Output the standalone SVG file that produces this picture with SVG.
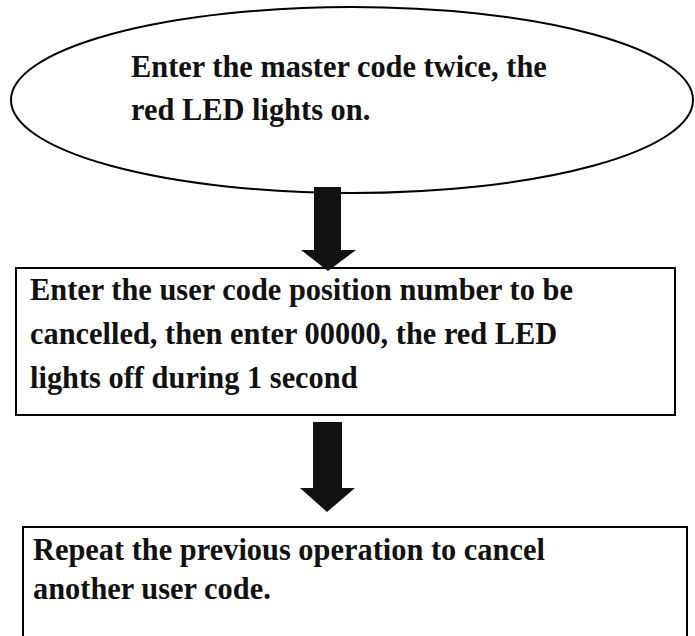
<svg xmlns="http://www.w3.org/2000/svg" width="695" height="636" viewBox="0 0 695 636">
<style>
.shape{fill:#fff;stroke:#000;stroke-width:2}
.t{font-family:"Liberation Serif","Times New Roman",serif;font-weight:bold;font-size:32px;fill:#111}
.arr{fill:#111}
</style>
<rect width="695" height="636" fill="#fff"/>
<g id="start">
<ellipse class="shape" cx="352" cy="100" rx="341" ry="93"/>
<text class="t" transform="translate(131,77) scale(0.95,1)">Enter the master code twice, the</text>
<text class="t" transform="translate(131,120) scale(0.95,1)">red LED lights on.</text>
</g>
<g id="step1">
<rect class="shape" x="16" y="268" width="659" height="147"/>
<text class="t" transform="translate(30,300) scale(0.95,1)">Enter the user code position number to be</text>
<text class="t" transform="translate(30,344) scale(0.95,1)">cancelled, then enter 00000, the red LED</text>
<text class="t" transform="translate(30,388) scale(0.95,1)">lights off during 1 second</text>
</g>
<g id="step2">
<rect class="shape" x="23" y="527" width="664" height="130"/>
<text class="t" transform="translate(33,560) scale(0.95,1)">Repeat the previous operation to cancel</text>
<text class="t" transform="translate(33,599) scale(0.95,1)">another user code.</text>
</g>
<g id="connectors">
<polygon class="arr" points="314,187 341,187 341,250 356,250 328,271 301,250 314,250"/>
<polygon class="arr" points="313,422 342,422 342,488 355,488 327,512 300,488 313,488"/>
</g>
</svg>
